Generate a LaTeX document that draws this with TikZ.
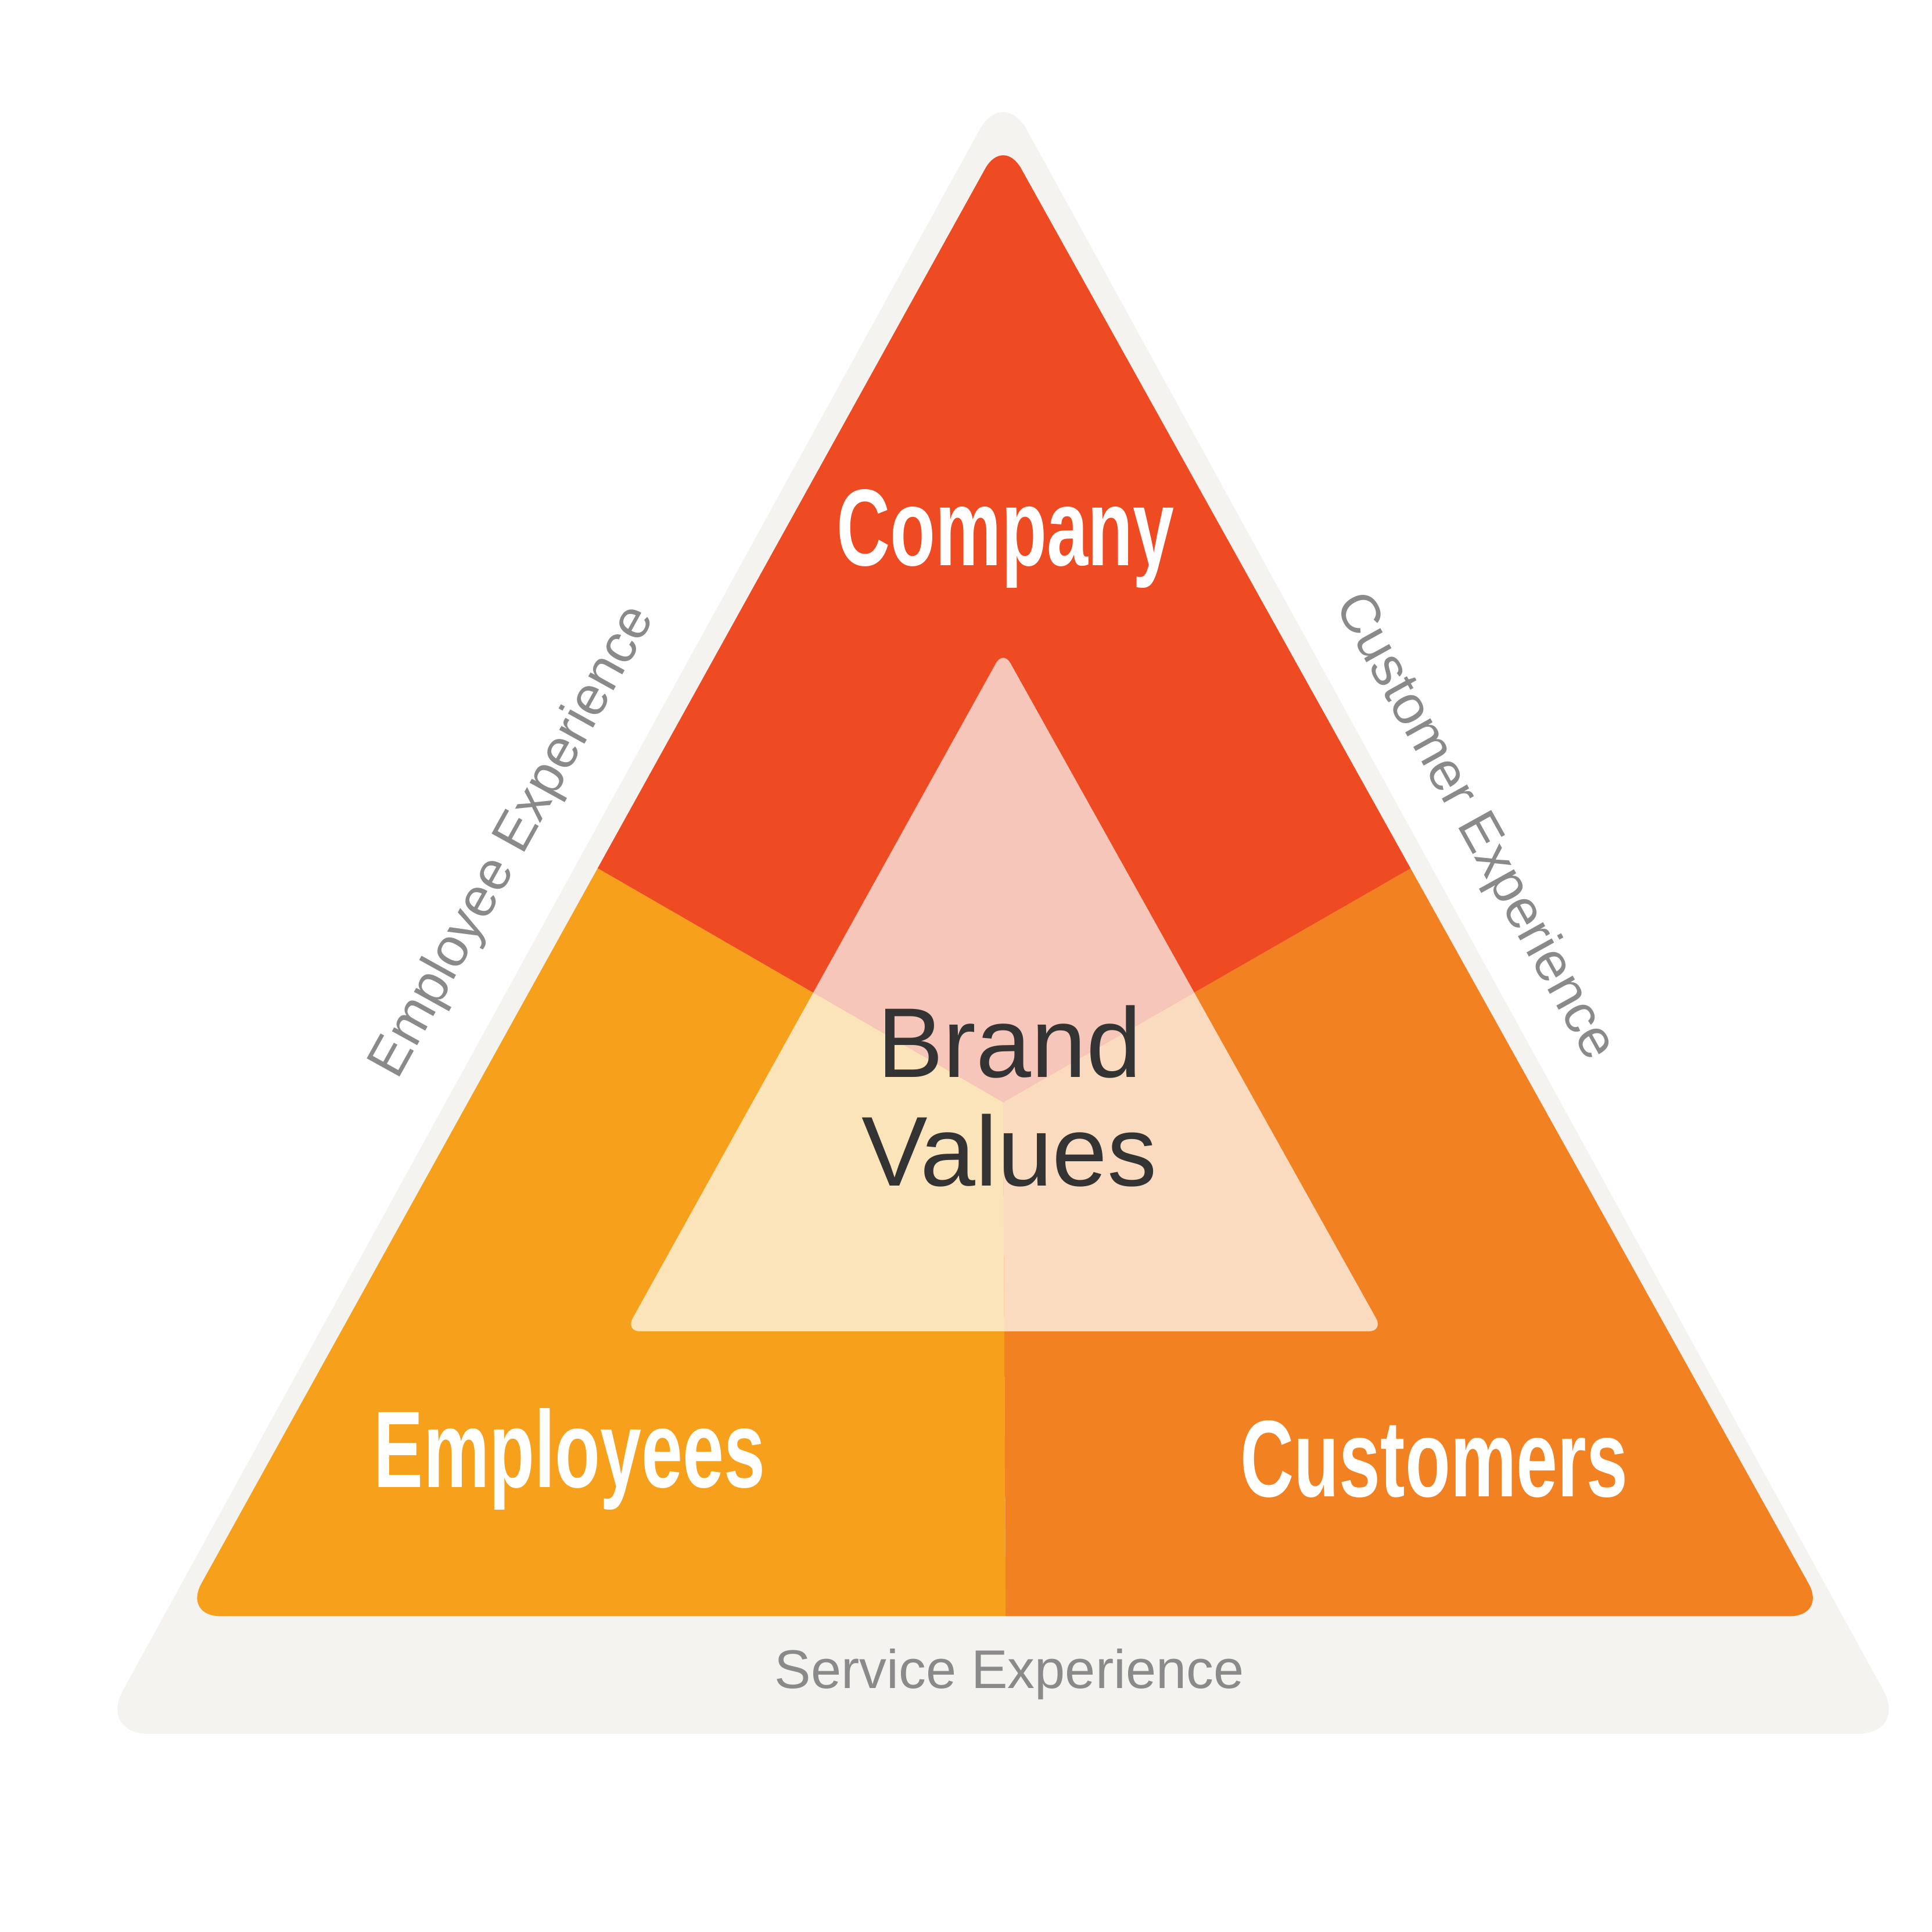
\documentclass[tikz,border=0pt]{standalone}
\usepackage{fontspec}
\setmainfont{Liberation Sans}
\definecolor{ctop}{HTML}{EF4B23}
\definecolor{cleft}{HTML}{F6A01B}
\definecolor{cright}{HTML}{F28121}
\definecolor{itop}{HTML}{F7C6BA}
\definecolor{ileft}{HTML}{FBE3BA}
\definecolor{iright}{HTML}{FADBBF}
\definecolor{shadowc}{HTML}{F4F3EF}
\definecolor{lab}{HTML}{8A8A8A}
\tikzset{
 big/.style={text=white,font=\fontsize{44}{50}\selectfont\bfseries,xscale=0.68},
 side/.style={text=lab,font=\fontsize{22}{26}\selectfont},
}
\begin{document}
\begin{tikzpicture}[x=0.5pt,y=-0.5pt]
\useasboundingbox (0,0) rectangle (1560,1560);
\coordinate (A) at (810,110);
\coordinate (L) at (148,1305);
\coordinate (R) at (1475,1305);
\coordinate (ML) at (467,692);
\coordinate (MR) at (1155,692);
\coordinate (MB) at (812,1305);
\coordinate (C) at (810,890);
% shadow
\fill[shadowc,rounded corners=20pt] (810,70) -- (1540,1400) -- (80,1400) -- cycle;
% outer
\begin{scope}
\clip[rounded corners=15pt] (A) -- (R) -- (L) -- cycle;
\fill[cleft] (ML) -- (C) -- (MB) -- (L) -- (0,1400) -- (0,692) -- cycle;
\fill[cright] (MR) -- (C) -- (MB) -- (R) -- (1560,1400) -- (1560,692) -- cycle;
\fill[ctop] (A) -- (1560,692) -- (MR) -- (C) -- (ML) -- (0,692) -- cycle;
\end{scope}
% inner
\begin{scope}
\clip[rounded corners=6pt] (810,525) -- (1117,1075) -- (505,1075) -- cycle;
\fill[itop] (C) -- (ML) -- (0,0) -- (1560,0) -- (MR) -- cycle;
\fill[ileft] (C) -- (ML) -- (0,1400) -- (MB) -- cycle;
\fill[iright] (C) -- (MR) -- (1560,1400) -- (MB) -- cycle;
\end{scope}
\node[big] (company) at (812,435) {Company};
\node[big] (emp) at (460,1178) {Employees};
\node[big] (cust) at (1158,1178) {Customers};
\node[text=black!80,font=\fontsize{40}{44}\selectfont,align=center] (bv) at (815,885) {Brand\\Values};
\node[side,rotate=61] (ee) at (415,680) {Employee Experience};
\node[side,rotate=-61] (ce) at (1190,668) {Customer Experience};
\node[side] (se) at (815,1352) {Service Experience};
\end{tikzpicture}
\end{document}
